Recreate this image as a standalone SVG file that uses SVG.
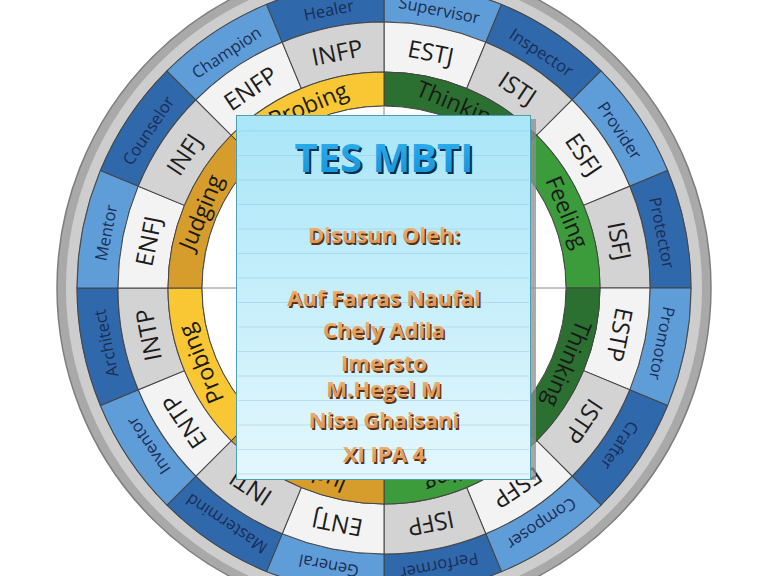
<svg xmlns="http://www.w3.org/2000/svg" xmlns:xlink="http://www.w3.org/1999/xlink" width="768" height="576" viewBox="0 0 768 576">
<defs>
<path id="segBlue" d="M384,-19 A307,307 0 0 1 501.484,4.369 L485.794,42.248 A266,266 0 0 0 384,22 Z"/>
<path id="segType" d="M384,22 A266,266 0 0 1 485.794,42.248 L466.660,88.442 A216,216 0 0 0 384,72 Z"/>
<path id="segColor" d="M384,72 A216,216 0 0 1 536.735,135.265 L512.693,159.307 A182,182 0 0 0 384,106 Z"/>
<linearGradient id="panelGrad" x1="0" y1="0" x2="0" y2="1">
<stop offset="0" stop-color="#a9e6f8"/>
<stop offset="1" stop-color="#e4f7fd"/>
</linearGradient>
<linearGradient id="nameGrad" x1="0" y1="0" x2="0" y2="1">
<stop offset="0" stop-color="#f3bd82"/>
<stop offset="1" stop-color="#d98a48"/>
</linearGradient>
<linearGradient id="titleGrad" x1="0" y1="0" x2="0" y2="1">
<stop offset="0" stop-color="#35b4f0"/>
<stop offset="1" stop-color="#0f8fd8"/>
</linearGradient>
</defs>
<style>
.seg{stroke:#454545;stroke-width:1}
.lb{fill:#5f9dd8}
.db{fill:#2f68ab}
.wt{fill:#f3f3f3}
.gt{fill:#d3d3d3}
.dg{fill:#2b7030}
.lg{fill:#3c9c3c}
.or{fill:#d69d2d}
.ye{fill:#f8c733}
.tb{font-family:"Open Sans","Liberation Sans",sans-serif;font-size:16.5px;fill:#1b2d55;text-anchor:middle;dominant-baseline:central}
.tt{font-family:"Open Sans","Liberation Sans",sans-serif;font-size:24px;fill:#1c1c1c;text-anchor:middle;dominant-baseline:central}
.tc{font-family:"Open Sans","Liberation Sans",sans-serif;font-size:23px;fill:#1a1a1a;text-anchor:middle;dominant-baseline:central}
.title{font-family:"Open Sans","Liberation Sans",sans-serif;font-weight:bold;font-size:40px;text-anchor:middle}
.name{font-family:"Open Sans","Liberation Sans",sans-serif;font-weight:bold;font-size:22px;text-anchor:middle}
.sh{fill:#5a3212}
.tsh{fill:#0c2d48}
</style>
<rect width="768" height="576" fill="#ffffff"/>
<g id="outer-ring">
<circle cx="384" cy="288" r="327" fill="#a9a9a9" stroke="#7e7e7e" stroke-width="1.5"/>
<circle cx="384" cy="288" r="318" fill="#cdcdcd"/>
<circle cx="384" cy="288" r="307" fill="none" stroke="#6a6a6a" stroke-width="1"/>
</g>
<g id="ring-roles">
<g id="seg-supervisor"><use xlink:href="#segBlue" class="seg lb" transform="rotate(0 384 288)"/><text class="tb" x="384" y="4" transform="rotate(11.25 384 288)">Supervisor</text></g>
<g id="seg-inspector"><use xlink:href="#segBlue" class="seg db" transform="rotate(22.5 384 288)"/><text class="tb" x="384" y="4" transform="rotate(33.75 384 288)">Inspector</text></g>
<g id="seg-provider"><use xlink:href="#segBlue" class="seg lb" transform="rotate(45 384 288)"/><text class="tb" x="384" y="4" transform="rotate(56.25 384 288)">Provider</text></g>
<g id="seg-protector"><use xlink:href="#segBlue" class="seg db" transform="rotate(67.5 384 288)"/><text class="tb" x="384" y="4" transform="rotate(78.75 384 288)">Protector</text></g>
<g id="seg-promotor"><use xlink:href="#segBlue" class="seg lb" transform="rotate(90 384 288)"/><text class="tb" x="384" y="4" transform="rotate(101.25 384 288)">Promotor</text></g>
<g id="seg-crafter"><use xlink:href="#segBlue" class="seg db" transform="rotate(112.5 384 288)"/><text class="tb" x="384" y="4" transform="rotate(123.75 384 288)">Crafter</text></g>
<g id="seg-composer"><use xlink:href="#segBlue" class="seg lb" transform="rotate(135 384 288)"/><text class="tb" x="384" y="4" transform="rotate(146.25 384 288)">Composer</text></g>
<g id="seg-performer"><use xlink:href="#segBlue" class="seg db" transform="rotate(157.5 384 288)"/><text class="tb" x="384" y="4" transform="rotate(168.75 384 288)">Performer</text></g>
<g id="seg-general"><use xlink:href="#segBlue" class="seg lb" transform="rotate(180 384 288)"/><text class="tb" x="384" y="4" transform="rotate(191.25 384 288)">General</text></g>
<g id="seg-mastermind"><use xlink:href="#segBlue" class="seg db" transform="rotate(202.5 384 288)"/><text class="tb" x="384" y="4" transform="rotate(213.75 384 288)">Mastermind</text></g>
<g id="seg-inventor"><use xlink:href="#segBlue" class="seg lb" transform="rotate(225 384 288)"/><text class="tb" x="384" y="4" transform="rotate(236.25 384 288)">Inventor</text></g>
<g id="seg-architect"><use xlink:href="#segBlue" class="seg db" transform="rotate(247.5 384 288)"/><text class="tb" x="384" y="4" transform="rotate(258.75 384 288)">Architect</text></g>
<g id="seg-mentor"><use xlink:href="#segBlue" class="seg lb" transform="rotate(270 384 288)"/><text class="tb" x="384" y="4" transform="rotate(281.25 384 288)">Mentor</text></g>
<g id="seg-counselor"><use xlink:href="#segBlue" class="seg db" transform="rotate(292.5 384 288)"/><text class="tb" x="384" y="4" transform="rotate(303.75 384 288)">Counselor</text></g>
<g id="seg-champion"><use xlink:href="#segBlue" class="seg lb" transform="rotate(315 384 288)"/><text class="tb" x="384" y="4" transform="rotate(326.25 384 288)">Champion</text></g>
<g id="seg-healer"><use xlink:href="#segBlue" class="seg db" transform="rotate(337.5 384 288)"/><text class="tb" x="384" y="4" transform="rotate(348.75 384 288)">Healer</text></g>
</g>
<g id="ring-types">
<g id="seg-estj"><use xlink:href="#segType" class="seg wt" transform="rotate(0 384 288)"/><text class="tt" x="384" y="47" transform="rotate(11.25 384 288)">ESTJ</text></g>
<g id="seg-istj"><use xlink:href="#segType" class="seg gt" transform="rotate(22.5 384 288)"/><text class="tt" x="384" y="47" transform="rotate(33.75 384 288)">ISTJ</text></g>
<g id="seg-esfj"><use xlink:href="#segType" class="seg wt" transform="rotate(45 384 288)"/><text class="tt" x="384" y="47" transform="rotate(56.25 384 288)">ESFJ</text></g>
<g id="seg-isfj"><use xlink:href="#segType" class="seg gt" transform="rotate(67.5 384 288)"/><text class="tt" x="384" y="47" transform="rotate(78.75 384 288)">ISFJ</text></g>
<g id="seg-estp"><use xlink:href="#segType" class="seg wt" transform="rotate(90 384 288)"/><text class="tt" x="384" y="47" transform="rotate(101.25 384 288)">ESTP</text></g>
<g id="seg-istp"><use xlink:href="#segType" class="seg gt" transform="rotate(112.5 384 288)"/><text class="tt" x="384" y="47" transform="rotate(123.75 384 288)">ISTP</text></g>
<g id="seg-esfp"><use xlink:href="#segType" class="seg wt" transform="rotate(135 384 288)"/><text class="tt" x="384" y="47" transform="rotate(146.25 384 288)">ESFP</text></g>
<g id="seg-isfp"><use xlink:href="#segType" class="seg gt" transform="rotate(157.5 384 288)"/><text class="tt" x="384" y="47" transform="rotate(168.75 384 288)">ISFP</text></g>
<g id="seg-entj"><use xlink:href="#segType" class="seg wt" transform="rotate(180 384 288)"/><text class="tt" x="384" y="47" transform="rotate(191.25 384 288)">ENTJ</text></g>
<g id="seg-intj"><use xlink:href="#segType" class="seg gt" transform="rotate(202.5 384 288)"/><text class="tt" x="384" y="47" transform="rotate(213.75 384 288)">INTJ</text></g>
<g id="seg-entp"><use xlink:href="#segType" class="seg wt" transform="rotate(225 384 288)"/><text class="tt" x="384" y="47" transform="rotate(236.25 384 288)">ENTP</text></g>
<g id="seg-intp"><use xlink:href="#segType" class="seg gt" transform="rotate(247.5 384 288)"/><text class="tt" x="384" y="47" transform="rotate(258.75 384 288)">INTP</text></g>
<g id="seg-enfj"><use xlink:href="#segType" class="seg wt" transform="rotate(270 384 288)"/><text class="tt" x="384" y="47" transform="rotate(281.25 384 288)">ENFJ</text></g>
<g id="seg-infj"><use xlink:href="#segType" class="seg gt" transform="rotate(292.5 384 288)"/><text class="tt" x="384" y="47" transform="rotate(303.75 384 288)">INFJ</text></g>
<g id="seg-enfp"><use xlink:href="#segType" class="seg wt" transform="rotate(315 384 288)"/><text class="tt" x="384" y="47" transform="rotate(326.25 384 288)">ENFP</text></g>
<g id="seg-infp"><use xlink:href="#segType" class="seg gt" transform="rotate(337.5 384 288)"/><text class="tt" x="384" y="47" transform="rotate(348.75 384 288)">INFP</text></g>
</g>
<g id="ring-functions">
<g id="seg-thinking-1"><use xlink:href="#segColor" class="seg dg" transform="rotate(0 384 288)"/><text class="tc" x="384" y="89" transform="rotate(22.5 384 288)">Thinking</text></g>
<g id="seg-feeling-1"><use xlink:href="#segColor" class="seg lg" transform="rotate(45 384 288)"/><text class="tc" x="384" y="89" transform="rotate(67.5 384 288)">Feeling</text></g>
<g id="seg-thinking-2"><use xlink:href="#segColor" class="seg dg" transform="rotate(90 384 288)"/><text class="tc" x="384" y="89" transform="rotate(112.5 384 288)">Thinking</text></g>
<g id="seg-feeling-2"><use xlink:href="#segColor" class="seg lg" transform="rotate(135 384 288)"/><text class="tc" x="384" y="89" transform="rotate(157.5 384 288)">Feeling</text></g>
<g id="seg-judging-1"><use xlink:href="#segColor" class="seg or" transform="rotate(180 384 288)"/><text class="tc" x="384" y="89" transform="rotate(202.5 384 288)">Judging</text></g>
<g id="seg-probing-1"><use xlink:href="#segColor" class="seg ye" transform="rotate(225 384 288)"/><text class="tc" x="384" y="89" transform="rotate(247.5 384 288)">Probing</text></g>
<g id="seg-judging-2"><use xlink:href="#segColor" class="seg or" transform="rotate(270 384 288)"/><text class="tc" x="384" y="89" transform="rotate(292.5 384 288)">Judging</text></g>
<g id="seg-probing-2"><use xlink:href="#segColor" class="seg ye" transform="rotate(315 384 288)"/><text class="tc" x="384" y="89" transform="rotate(337.5 384 288)">Probing</text></g>
</g>
<g id="center">
<circle cx="384" cy="288" r="182" fill="#ffffff" stroke="#454545" stroke-width="1"/>
<path d="M202,288 H566 M384,106 V470" stroke="#8a8a8a" stroke-width="1" fill="none"/>
</g>
<g id="panel">
<rect x="530" y="119" width="6" height="361" fill="#8e8e8e" opacity="0.75"/>
<rect x="236.5" y="115.5" width="294" height="364" fill="url(#panelGrad)" stroke="#4f9db2" stroke-width="1"/>
<path d="M238,131H529M238,155.5H529M238,180H529M238,204.5H529M238,229H529M238,253.5H529M238,278H529M238,302.5H529M238,327H529M238,351.5H529M238,376H529M238,400.5H529M238,425H529M238,449.5H529M238,474H529" stroke="#8cc3d6" stroke-width="0.8" opacity="0.55" fill="none"/>
<text class="title tsh" x="386" y="174">TES MBTI</text>
<text class="title" x="384" y="172" fill="url(#titleGrad)">TES MBTI</text>
<g>
<text class="name sh" x="385.5" y="244.5">Disusun Oleh:</text>
<text class="name" x="384" y="243" fill="url(#nameGrad)">Disusun Oleh:</text>
<text class="name sh" x="385.5" y="307.5">Auf Farras Naufal</text>
<text class="name" x="384" y="306" fill="url(#nameGrad)">Auf Farras Naufal</text>
<text class="name sh" x="385.5" y="339.5">Chely Adila</text>
<text class="name" x="384" y="338" fill="url(#nameGrad)">Chely Adila</text>
<text class="name sh" x="385.5" y="372.5">Imersto</text>
<text class="name" x="384" y="371" fill="url(#nameGrad)">Imersto</text>
<text class="name sh" x="385.5" y="398.5">M.Hegel M</text>
<text class="name" x="384" y="397" fill="url(#nameGrad)">M.Hegel M</text>
<text class="name sh" x="385.5" y="429.5">Nisa Ghaisani</text>
<text class="name" x="384" y="428" fill="url(#nameGrad)">Nisa Ghaisani</text>
<text class="name sh" x="385.5" y="463.5">XI IPA 4</text>
<text class="name" x="384" y="462" fill="url(#nameGrad)">XI IPA 4</text>
</g>
</g>
</svg>
